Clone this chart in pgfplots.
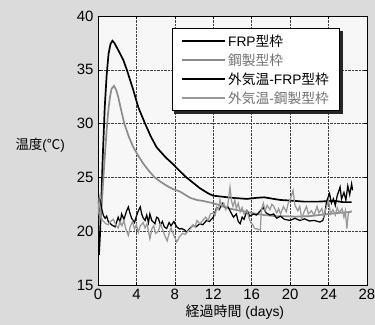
\documentclass[border=0pt]{standalone}
\usepackage{pgfplots}
\pgfplotsset{compat=1.18}
\usepackage{fontspec}
\setmainfont{Liberation Sans}
\newfontfamily\jp{Noto Sans CJK JP}
\definecolor{pagebg}{gray}{0.86}
\definecolor{axbg}{gray}{0.97}
\definecolor{gline}{gray}{0.55}
\definecolor{galine}{gray}{0.6}
\pgfplotsset{mylegend/.style={legend image code/.code={\draw[##1, line width=1.7bp] (0bp,0bp) -- (43bp,0bp);}}}
\begin{document}
\begin{tikzpicture}
\useasboundingbox (-98bp,-40bp) rectangle (277bp,285bp);
\fill[pagebg] (-98bp,-40bp) rectangle (277bp,285bp);
\begin{axis}[
  at={(0,0)}, anchor=south west,
  scale only axis, width=269bp, height=269bp,
  xmin=0, xmax=28, ymin=15, ymax=40,
  xtick={0,4,...,28}, ytick={15,20,...,40},
  axis background/.style={fill=axbg},
  grid=major, grid style={densely dotted, black!75, line width=0.5pt},
  axis line style={black, line width=0.6pt},
  tick style={black, line width=0.5pt}, major tick length=3bp,
  tick align=inside,
  /pgf/number format/assume math mode=true,
  ticklabel style={font=\fontsize{15}{15}\selectfont},
  xticklabel style={yshift=-1bp},
  yticklabel style={xshift=-1bp},
  xlabel={{\jp 経過時間} (days)},
  xlabel style={at={(axis description cs:0.509,-0.102)}, anchor=center, font=\fontsize{14}{14}\selectfont},
  ylabel={{\jp 温度}({\jp ℃})},
  ylabel style={at={(axis description cs:-0.215,0.52)}, rotate=-90, anchor=center, font=\fontsize{13.5}{14}\selectfont},
  legend style={name=leg, at={(rel axis cs:0.275,0.955)}, anchor=north west, draw=black, line width=0.9pt, fill=white,
    font=\fontsize{13.8}{14}\selectfont, row sep=2bp, inner xsep=9bp, inner ysep=4bp},
  legend cell align=left,
]
% FRP concrete
\addplot[black, line width=1.7bp, mylegend] coordinates {
(0.1,17.8) (0.2,19.5) (0.35,23) (0.5,27) (0.7,31.5) (0.9,34.5) (1.1,36.5) (1.3,37.4) (1.5,37.7) (1.7,37.5)
(2.0,37.0) (2.3,36.5) (2.64,35.9) (3.0,35.0) (3.68,33.1) (4.2,31.5) (4.9,30.0) (5.5,28.8) (6.1,27.8) (7.0,26.9)
(7.84,26.2) (8.5,25.6) (9.2,25.0) (9.9,24.5) (10.6,24.0) (11.5,23.5) (12,23.3) (13,23.2) (14,23.1) (15.5,23.0)
(16.5,23.1) (17.3,23.15) (18.3,23.0) (19,22.9) (20,22.85) (21.4,22.75) (23,22.75) (24,22.8) (24.8,22.8) (25.5,22.7) (26.4,22.7)};
\addlegendentry{FRP{\jp 型枠}}
% steel concrete
\addplot[gline, line width=1.7bp, mylegend] coordinates {
(0.15,21.0) (0.38,22.3) (0.55,24.8) (0.73,27.2) (0.9,29.4) (1.07,31.2) (1.25,32.5) (1.42,33.25) (1.67,33.5) (1.9,33.1)
(2.1,32.5) (2.4,31.3) (2.74,30.0) (3.2,28.8) (3.68,27.8) (4.2,27.0) (4.7,26.3) (5.3,25.6) (5.9,25.0) (6.5,24.6)
(7.2,24.2) (7.84,23.9) (8.5,23.7) (9.6,23.1) (10.3,22.9) (11,22.8) (12,22.6) (13,22.3) (13.7,22.1) (14.5,21.95)
(15.5,21.8) (16.5,21.6) (17.3,21.5) (18.5,21.4) (19.5,21.4) (20.5,21.35) (22,21.4) (23,21.5) (24,21.6) (25,21.7) (26.4,21.8)};
\addlegendentry{\color{black!55}{\jp 鋼製型枠}}
% ambient FRP
\addplot[black, line width=1.25bp, mylegend] coordinates {
(0.0,22.5) (0.1,23.0) (0.2,22.0) (0.3,22.6) (0.38,22.1) (0.55,21.5) (0.73,21.2) (0.9,21.4) (1.07,20.9) (1.4,20.6)
(1.77,20.4) (2.1,21.3) (2.3,20.8) (2.46,21.6) (2.7,21.1) (2.98,21.9) (3.16,22.25) (3.35,21.6) (3.5,21.2) (3.8,20.8)
(4.0,21.4) (4.2,21.9) (4.4,22.25) (4.55,21.6) (4.72,21.2) (4.9,21.0) (5.07,21.5) (5.25,20.8) (5.4,21.6) (5.6,21.0)
(5.93,20.7) (6.1,21.3) (6.28,21.2) (6.5,20.6) (6.7,20.9) (6.9,20.4) (7.15,20.25) (7.4,20.8) (7.6,20.5) (7.9,20.9)
(8.2,20.4) (8.5,20.2) (8.7,20.25) (9.05,20.1) (9.2,19.9) (9.5,20.2) (9.9,20.55) (10.2,20.4) (10.6,20.7) (10.9,20.6)
(11.3,21.0) (11.6,20.9) (12.0,21.3) (12.2,21.8) (12.35,22.2) (12.6,22.0) (13.0,22.6) (13.3,22.1) (13.5,22.3) (13.8,21.8)
(14.1,21.3) (14.4,21.6) (14.6,20.9) (14.8,20.7) (15.0,21.3) (15.2,21.1) (15.5,21.9) (15.8,21.4) (16.2,21.6) (16.5,21.5)
(16.9,21.9) (17.2,22.2) (17.5,21.7) (17.9,21.5) (18.3,21.6) (18.6,21.2) (19.0,21.4) (19.4,21.1) (20.0,21.0) (20.5,21.2)
(21.0,21.0) (21.5,21.15) (22.0,20.95) (22.5,21.0) (23.1,20.85) (23.4,21.0) (23.6,21.6) (23.8,22.8) (24.1,23.5) (24.3,22.6)
(24.5,23.0) (24.7,22.4) (24.9,23.3) (25.2,24.1) (25.35,23.0) (25.6,23.6) (25.8,22.9) (26.0,24.2) (26.2,23.4) (26.4,24.4) (26.5,23.8)};
\addlegendentry{{\jp 外気温}-FRP{\jp 型枠}}
% ambient steel
\addplot[galine, line width=1.25bp, mylegend] coordinates {
(0.0,21.5) (0.1,22.8) (0.2,22.4) (0.3,21.5) (0.45,21.0) (0.6,20.9) (0.8,20.7) (1.07,20.6) (1.3,20.9) (1.6,21.1)
(1.85,20.6) (2.1,20.3) (2.3,20.9) (2.5,20.5) (2.7,21.0) (2.9,20.2) (3.16,19.6) (3.35,20.4) (3.6,20.9) (3.8,20.2)
(4.0,20.6) (4.2,19.9) (4.4,20.5) (4.7,20.8) (4.9,20.3) (5.1,20.7) (5.4,19.3) (5.6,20.2) (5.8,20.5) (6.0,19.8)
(6.28,20.0) (6.5,20.7) (6.7,20.2) (6.95,19.6) (7.2,19.1) (7.4,19.8) (7.6,20.3) (7.9,19.6) (8.2,19.0) (8.5,19.5)
(8.8,19.8) (9.1,19.7) (9.35,20.0) (9.6,20.2) (9.9,20.6) (10.1,20.4) (10.3,21.0) (10.6,20.7) (10.9,21.0) (11.2,21.3)
(11.45,21.0) (11.7,21.6) (12.0,21.7) (12.2,21.5) (12.35,22.2) (12.55,22.0) (12.7,22.9) (12.9,22.3) (13.1,22.6) (13.3,22.0)
(13.5,22.4) (13.74,24.1) (13.9,22.8) (14.05,22.3) (14.25,22.9) (14.4,22.1) (14.6,22.6) (14.8,21.8) (15.0,22.2) (15.2,21.6)
(15.5,21.9) (15.7,21.3) (15.9,20.8) (16.1,20.6) (16.3,20.25) (16.6,20.2) (16.9,20.1) (17.0,21.9) (17.2,22.6) (17.4,21.9)
(17.6,22.4) (17.9,22.0) (18.1,22.5) (18.3,22.3) (18.6,21.7) (18.8,22.1) (19.0,21.6) (19.3,22.3) (19.6,21.8) (19.8,22.6)
(20.0,22.9) (20.3,23.8) (20.5,22.4) (20.8,21.9) (21.0,22.3) (21.2,21.2) (21.5,21.9) (21.7,22.3) (21.9,21.6) (22.2,21.9)
(22.5,21.5) (22.8,22.3) (23.0,21.7) (23.3,22.1) (23.5,21.4) (23.8,22.3) (24.0,22.9) (24.2,21.6) (24.45,22.0) (24.7,21.5)
(24.9,22.2) (25.1,21.7) (25.4,22.1) (25.6,21.3) (25.75,21.9) (25.9,20.25) (26.05,21.6) (26.2,21.8) (26.4,21.9)};
\addlegendentry{\color{black!55}{\jp 外気温}-{\jp 鋼製型枠}}
\end{axis}
\fill[black!85] ([yshift=-2.5pt]leg.north east) rectangle ([xshift=2.5pt,yshift=-2.5pt]leg.south east);
\fill[black!85] ([xshift=2.5pt]leg.south west) rectangle ([xshift=2.5pt,yshift=-2.5pt]leg.south east);
\end{tikzpicture}
\end{document}
